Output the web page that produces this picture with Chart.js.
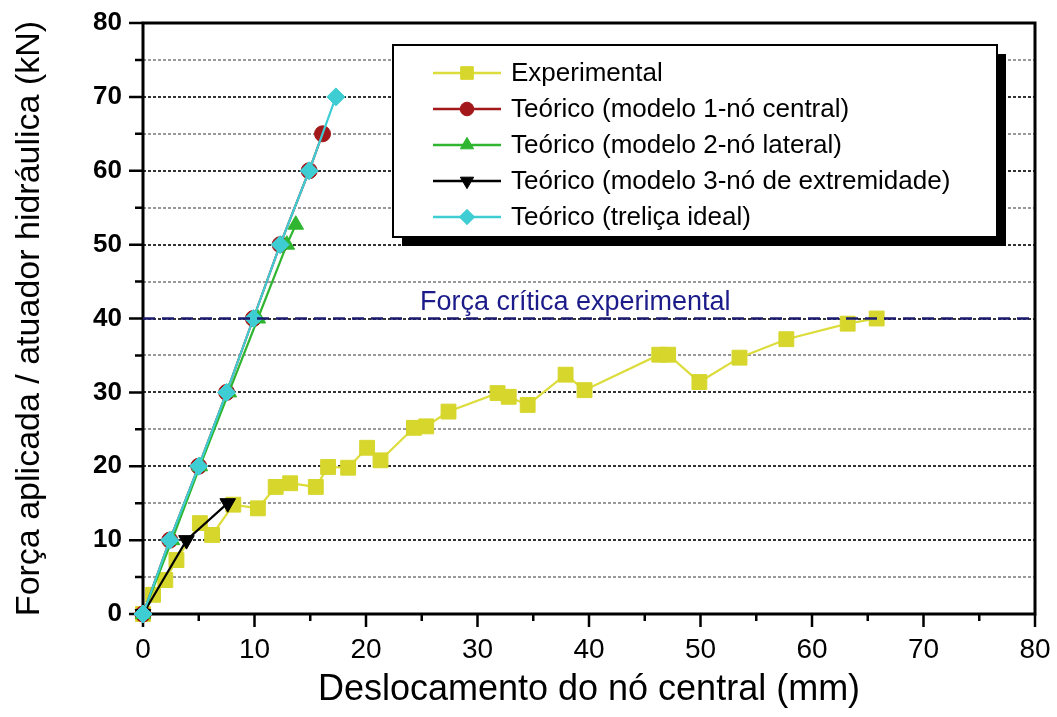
<!DOCTYPE html>
<html>
<head>
<meta charset="utf-8">
<script src="https://cdn.jsdelivr.net/npm/chart.js@4.4.0/dist/chart.umd.min.js"></script>
<style>
  html, body { margin: 0; padding: 0; background: #fff; }
  canvas { display: block; }
</style>
</head>
<body>
<canvas id="myChart" width="1057" height="717"></canvas>
<script>
// valores
var expX = [0, 0.9, 2.0, 3.0, 5.1, 6.2, 8.1, 10.3, 11.9, 13.2, 15.5, 16.6, 18.4, 20.1, 21.3, 24.3, 25.4, 27.4, 31.8, 32.8, 34.5, 37.9, 39.6, 46.3, 47.1, 49.9, 53.5, 57.7, 63.2, 65.8];
var expY = [0, 2.6, 4.6, 7.3, 12.3, 10.7, 14.8, 14.3, 17.2, 17.7, 17.2, 19.9, 19.8, 22.5, 20.8, 25.2, 25.4, 27.4, 29.9, 29.4, 28.3, 32.4, 30.3, 35.1, 35.1, 31.4, 34.7, 37.2, 39.3, 40.0];

var m1X = [0, 2.4, 5.0, 7.5, 9.9, 12.3, 14.9, 16.1];
var m1Y = [0, 10, 20, 30, 40, 50, 60, 65];

var m2X = [0, 2.6, 5.1, 7.7, 10.3, 12.9, 13.7];
var m2Y = [0, 10, 20, 30, 40, 50, 52.7];

var m3X = [0, 3.9, 7.6];
var m3Y = [0, 10, 15];

var idealX = [0, 2.4, 5.0, 7.5, 9.9, 12.3, 14.9, 17.3];
var idealY = [0, 10, 20, 30, 40, 50, 60, 70];

var forcaCritica = 40;
var xTicks = [0, 10, 20, 30, 40, 50, 60, 70, 80];

var FONT = '"Liberation Sans", Arial, sans-serif';
var NARROW = '"Liberation Sans Narrow", "Liberation Sans", sans-serif';

function toPoints(xs, ys) {
  return xs.map(function(x, i) { return {x: x, y: ys[i]}; });
}

function makeSet(label, xs, ys, color, lineColor, style, radius, order, rotation) {
  return {
    label: label,
    data: toPoints(xs, ys),
    borderColor: lineColor,
    backgroundColor: color,
    borderWidth: 2.2,
    pointStyle: style,
    pointRadius: radius,
    pointRotation: rotation || 0,
    pointBackgroundColor: color,
    pointBorderColor: color,
    pointBorderWidth: 1,
    tension: 0,
    clip: false,
    order: order
  };
}

var datasets = [
  makeSet('Experimental', expX, expY, '#d6d62c', '#dcdc3c', 'rect', 10.5, 4),
  makeSet('Teórico (modelo 1-nó central)', m1X, m1Y, '#a3191b', '#a3191b', 'circle', 8, 3),
  makeSet('Teórico (modelo 2-nó lateral)', m2X, m2Y, '#2fb52f', '#2fb52f', 'triangle', 9, 2),
  makeSet('Teórico (modelo 3-nó de extremidade)', m3X, m3Y, '#000000', '#000000', 'triangle', 9, 1, 180),
  makeSet('Teórico (treliça ideal)', idealX, idealY, '#3fcdd4', '#3fcdd4', 'rectRot', 9, 0)
];

// moldura e marcas dos eixos (por baixo dos dados)
var frame = {
  id: 'frame',
  beforeDatasetsDraw: function(chart) {
    var ctx = chart.ctx;
    var a = chart.chartArea;
    var xs = chart.scales.x, ys = chart.scales.y;
    ctx.save();
    ctx.strokeStyle = '#000';
    ctx.lineWidth = 3;
    ctx.strokeRect(a.left, a.top, a.right - a.left, a.bottom - a.top);

    ctx.lineWidth = 2.5;
    ctx.beginPath();
    for (var v = 0; v <= 80; v += 5) {
      var major = v % 10 === 0;
      var py = ys.getPixelForValue(v);
      ctx.moveTo(a.left - (major ? 14 : 8), py);
      ctx.lineTo(a.left, py);
      var px = xs.getPixelForValue(v);
      ctx.moveTo(px, a.bottom);
      ctx.lineTo(px, a.bottom + (major ? 13 : 7));
    }
    ctx.stroke();
    ctx.restore();
  }
};

// linha da força crítica e legenda
var extras = {
  id: 'extras',
  afterDatasetsDraw: function(chart) {
    var ctx = chart.ctx;
    var a = chart.chartArea;
    var ys = chart.scales.y;
    ctx.save();

    var yc = ys.getPixelForValue(forcaCritica);
    ctx.strokeStyle = '#1b1b70';
    ctx.lineWidth = 2.6;
    ctx.setLineDash([12, 7]);
    ctx.beginPath();
    ctx.moveTo(a.left, yc);
    ctx.lineTo(a.right, yc);
    ctx.stroke();
    ctx.setLineDash([]);
    ctx.fillStyle = '#1b1b8a';
    ctx.font = '27px ' + FONT;
    ctx.textBaseline = 'alphabetic';
    ctx.fillText('Força crítica experimental', 420, yc - 9);

    var L = 393, T = 45, R = 997, B = 237;
    ctx.fillStyle = '#000';
    ctx.fillRect(L + 9, T + 9, R - L, B - T);
    ctx.fillStyle = '#fff';
    ctx.fillRect(L, T, R - L, B - T);
    ctx.strokeStyle = '#000';
    ctx.lineWidth = 2;
    ctx.strokeRect(L, T, R - L, B - T);

    chart.data.datasets.forEach(function(ds, row) {
      var y = 73 + row * 36;
      ctx.strokeStyle = ds.borderColor;
      ctx.lineWidth = 2.5;
      ctx.beginPath();
      ctx.moveTo(433, y);
      ctx.lineTo(501, y);
      ctx.stroke();
      ctx.fillStyle = ds.pointBackgroundColor;
      ctx.strokeStyle = ds.pointBorderColor;
      ctx.lineWidth = 1;
      Chart.helpers.drawPoint(ctx, {
        pointStyle: ds.pointStyle,
        radius: ds.pointRadius * 0.85,
        rotation: ds.pointRotation,
        borderWidth: 1
      }, 467, y);
      ctx.fillStyle = '#000';
      ctx.font = '26px ' + FONT;
      ctx.textBaseline = 'middle';
      ctx.fillText(ds.label, 511, y + 1);
    });

    ctx.restore();
  }
};

var ctx = document.getElementById('myChart').getContext('2d');
var myChart = new Chart(ctx, {
  type: 'line',
  data: { datasets: datasets },
  options: {
    responsive: false,
    animation: false,
    devicePixelRatio: 1,
    layout: { padding: { left: 0, top: 23, right: 22, bottom: 0 } },
    plugins: {
      legend: { display: false },
      tooltip: { enabled: false }
    },
    scales: {
      x: {
        type: 'linear',
        min: 0,
        max: 80,
        afterBuildTicks: function(s) {
          s.ticks = xTicks.map(function(v) { return {value: v}; });
        },
        ticks: {
          autoSkip: false,
          maxRotation: 0,
          padding: 19,
          color: '#000',
          font: { family: NARROW, size: 28 }
        },
        grid: { display: false, drawTicks: false },
        border: { display: false },
        title: {
          display: true,
          text: 'Deslocamento do nó central (mm)',
          color: '#000',
          font: { family: FONT, size: 36 },
          padding: { top: 0, bottom: 5 }
        },
        afterFit: function(s) {
          s.height = 103;
          s.paddingLeft = 0;
          s.paddingRight = 0;
        }
      },
      y: {
        type: 'linear',
        min: 0,
        max: 80,
        ticks: {
          stepSize: 5,
          autoSkip: false,
          padding: 21,
          color: '#000',
          font: { family: FONT, size: 26, weight: 'bold' },
          callback: function(v) { return v % 10 === 0 ? v : ''; }
        },
        grid: {
          drawTicks: false,
          lineWidth: 2,
          color: function(c) {
            var v = c.tick ? c.tick.value : 0;
            if (v === 0 || v === 80) return 'rgba(0,0,0,0)';
            return v % 10 === 0 ? '#333333' : '#999999';
          }
        },
        border: { display: false, dash: [3, 2] },
        title: {
          display: true,
          text: 'Força aplicada / atuador hidráulica (kN)',
          color: '#000',
          font: { family: FONT, size: 34 },
          padding: { top: 9, bottom: 0 }
        },
        afterFit: function(s) {
          s.width = 143;
          s.paddingTop = 0;
          s.paddingBottom = 0;
        }
      }
    }
  },
  plugins: [frame, extras]
});
</script>
</body>
</html>
